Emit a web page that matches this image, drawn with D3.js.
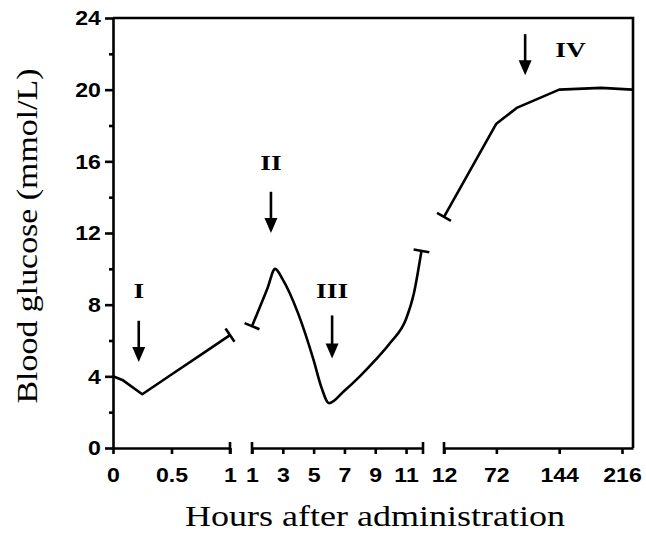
<!DOCTYPE html>
<html>
<head>
<meta charset="utf-8">
<script src="https://cdnjs.cloudflare.com/ajax/libs/d3/7.8.5/d3.min.js"></script>
<style>
body { margin: 0; background: #fff; }
svg { display: block; }
</style>
</head>
<body>
<svg class="chart"></svg>
<script>
// three pieces of the broken time axis (hours)
var hours1 = [0, 0.08, 0.25, 0.5, 0.75, 1]
var glucose1 = [4.0, 3.8, 3.0, 4.1, 5.2, 6.3]
var hours2 = [1, 2, 2.5, 3, 4, 5, 5.5, 6, 7, 8, 9, 10, 11, 11.5, 12]
var glucose2 = [6.8, 8.9, 10.0, 9.4, 7.5, 4.9, 3.4, 2.5, 3.2, 4.0, 4.9, 5.9, 7.2, 8.6, 11.0]
var hours3 = [12, 72, 96, 144, 192, 228]
var glucose3 = [12.9, 18.1, 19.0, 20.0, 20.1, 20.0]

var yTicks = [0, 4, 8, 12, 16, 20, 24]
var yMinor = [2, 6, 10, 14, 18, 22]
var xTicks1 = [0, 0.5, 1]
var xTicks2 = [1, 3, 5, 7, 9, 11]
var xTicks3 = [12, 72, 144, 216]

// arrows I..IV
var marks = ['I', 'II', 'III', 'IV']
var markSeg = [0, 1, 1, 2]
var markHour = [0.22, 2.23, 6.2, 105]
var markTop = [7.1, 14.3, 7.4, 23.1]
var markTip = [4.8, 12.0, 5.0, 20.8]
var labelHour = [0.22, 2.23, 6.2, 157]
var labelValue = [8.4, 15.5, 8.4, 21.8]

var width = 646
var height = 533
var svg = d3.select('.chart').attr('width', width).attr('height', height)

var y = d3.scaleLinear().domain([0, 24]).range([448, 18])
var x1 = d3.scaleLinear().domain([0, 1]).range([113, 230])
var x2 = d3.scaleLinear().domain([1, 12.1]).range([252, 423])
var x3 = d3.scaleLinear().domain([12, 228.6]).range([444, 633])
var xs = [x1, x2, x3]

var tickFont = '"Liberation Sans", Arial, sans-serif'
var serif = '"Liberation Serif", "Times New Roman", serif'
var sw = 2.6

function styleAxis(g) {
    g.selectAll('path, line').attr('stroke', '#000').attr('stroke-width', sw)
    g.selectAll('text')
        .attr('font-family', tickFont)
        .attr('font-weight', 'bold')
        .attr('font-size', 21)
        .attr('fill', '#000')
}

// x axis pieces
var xTicks = [xTicks1, xTicks2, xTicks3]
xs.forEach(function(sc, i) {
    var g = svg.append('g')
        .attr('transform', 'translate(0,448)')
        .call(d3.axisBottom(sc).tickValues(xTicks[i]).tickSize(6).tickSizeOuter(0)
            .tickPadding(13).tickFormat(d3.format('')))
    styleAxis(g)
    g.selectAll('text').attr('transform', 'scale(1.1,1)')
})

// break caps on the x axis
var caps = [x1.range()[1], x2.range()[0], x2.range()[1], x3.range()[0]]
svg.append('g').selectAll('line')
    .data(caps)
    .enter().append('line')
    .attr('x1', d => d).attr('x2', d => d)
    .attr('y1', 442).attr('y2', 454)
    .attr('stroke', '#000').attr('stroke-width', sw)

// y axis
var gy = svg.append('g')
    .attr('transform', 'translate(113,0)')
    .call(d3.axisLeft(y).tickValues(yTicks).tickSize(8).tickSizeOuter(0).tickPadding(3))
styleAxis(gy)
gy.selectAll('text').attr('transform', 'scale(1.1,1)')

var gm = svg.append('g')
    .attr('transform', 'translate(113,0)')
    .call(d3.axisLeft(y).tickValues(yMinor).tickSize(4).tickFormat(''))
gm.select('.domain').remove()
styleAxis(gm)

// box top and right
svg.append('path')
    .attr('d', 'M' + x1.range()[0] + ',' + y(24) + 'H' + x3.range()[1] + 'V' + y(0))
    .attr('fill', 'none')
    .attr('stroke', '#000')
    .attr('stroke-width', sw)

// curves
var series = [
    { h: hours1, v: glucose1, curve: d3.curveLinear, capStart: false, capEnd: true },
    { h: hours2, v: glucose2, curve: d3.curveMonotoneX, capStart: true, capEnd: true },
    { h: hours3, v: glucose3, curve: d3.curveLinear, capStart: true, capEnd: false }
]

series.forEach(function(s, i) {
    var sc = xs[i]
    var pts = s.h.map((h, k) => [sc(h), y(s.v[k])])
    svg.append('path')
        .datum(pts)
        .attr('d', d3.line().curve(s.curve))
        .attr('fill', 'none')
        .attr('stroke', '#000')
        .attr('stroke-width', sw)
        .attr('stroke-linejoin', 'round')

    // little perpendicular bars where the line is broken
    function cap(p, q) {
        var dx = p[0] - q[0], dy = p[1] - q[1]
        var len = Math.sqrt(dx * dx + dy * dy)
        var nx = -dy / len * 8, ny = dx / len * 8
        svg.append('line')
            .attr('x1', p[0] + nx).attr('y1', p[1] + ny)
            .attr('x2', p[0] - nx).attr('y2', p[1] - ny)
            .attr('stroke', '#000').attr('stroke-width', sw)
    }
    if (s.capStart) cap(pts[0], pts[1])
    if (s.capEnd) cap(pts[pts.length - 1], pts[pts.length - 2])
})

// arrows and roman numerals
marks.forEach(function(m, i) {
    var sc = xs[markSeg[i]]
    var ax = sc(markHour[i])
    var top = y(markTop[i]), tip = y(markTip[i])
    svg.append('line')
        .attr('x1', ax).attr('x2', ax)
        .attr('y1', top).attr('y2', tip - 10)
        .attr('stroke', '#000').attr('stroke-width', 2.6)
    svg.append('path')
        .attr('d', 'M' + (ax - 6.5) + ',' + (tip - 15) + 'L' + (ax + 6.5) + ',' + (tip - 15) + 'L' + ax + ',' + tip + 'Z')
        .attr('fill', '#000')
    svg.append('text')
        .attr('transform', 'translate(' + xs[markSeg[i]](labelHour[i]) + ',' + y(labelValue[i]) + ') scale(1.25,1)')
        .attr('text-anchor', 'middle')
        .attr('font-family', serif)
        .attr('font-weight', 'bold')
        .attr('font-size', 22)
        .attr('fill', '#000')
        .text(m)
})

// axis titles
svg.append('text')
    .attr('x', 375)
    .attr('y', 526)
    .attr('text-anchor', 'middle')
    .attr('font-family', serif)
    .attr('font-size', 29)
    .attr('textLength', 380)
    .attr('lengthAdjust', 'spacingAndGlyphs')
    .attr('fill', '#000')
    .text('Hours after administration')

svg.append('text')
    .attr('transform', 'translate(37,236) rotate(-90)')
    .attr('text-anchor', 'middle')
    .attr('font-family', serif)
    .attr('font-size', 30)
    .attr('textLength', 335)
    .attr('lengthAdjust', 'spacingAndGlyphs')
    .attr('fill', '#000')
    .text('Blood glucose (mmol/L)')
</script>
</body>
</html>
